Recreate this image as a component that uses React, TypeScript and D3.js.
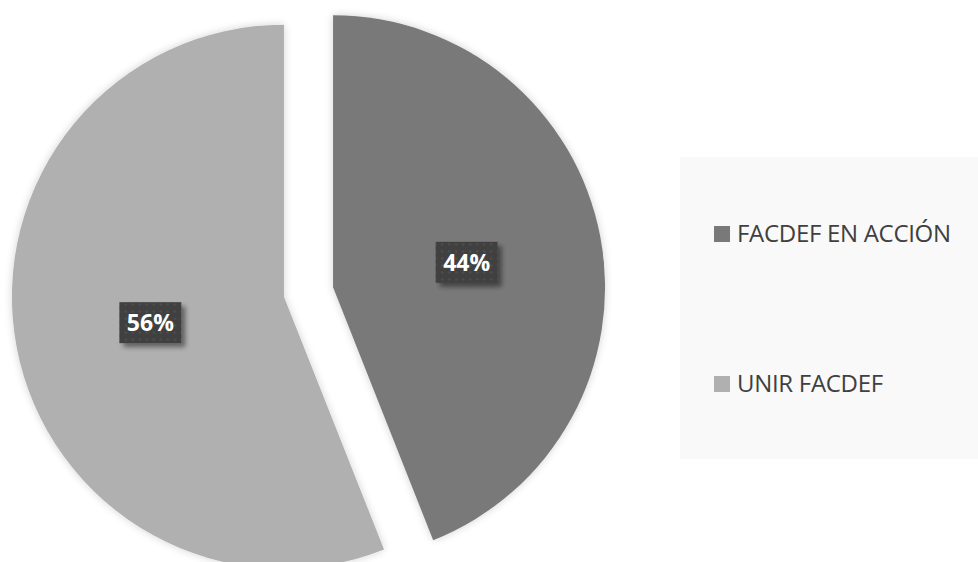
import React from "react";
import * as d3 from "d3";

const categories = ["FACDEF EN ACCIÓN", "UNIR FACDEF"];
const values = [44, 56];
const colors = ["#797979", "#b0b0b0"];

const W = 978;
const H = 562;

export default function App() {
  const cx = 308.5;
  const cy = 292;
  const r = 272;
  const explode = 25;
  const pie = d3.pie<number>().sort(null).value((d) => d)(values);
  const arc = d3.arc<d3.PieArcDatum<number>>().innerRadius(0).outerRadius(r);
  const total = d3.sum(values);

  return (
    <div style={{ position: "absolute", left: 0, top: 0 }}>
      <svg width={W} height={H} style={{ display: "block", background: "#ffffff" }}>
        <defs>
          <filter id="sh" x="-20%" y="-20%" width="140%" height="140%">
            <feGaussianBlur in="SourceAlpha" stdDeviation="4" />
            <feOffset dx="0" dy="0" result="b" />
            <feComponentTransfer>
              <feFuncA type="linear" slope="0.18" />
            </feComponentTransfer>
            <feMerge>
              <feMergeNode />
              <feMergeNode in="SourceGraphic" />
            </feMerge>
          </filter>
          <filter id="lsh" x="-30%" y="-30%" width="160%" height="160%">
            <feGaussianBlur in="SourceAlpha" stdDeviation="2.5" />
            <feOffset dx="4" dy="4" />
            <feComponentTransfer>
              <feFuncA type="linear" slope="0.45" />
            </feComponentTransfer>
            <feMerge>
              <feMergeNode />
              <feMergeNode in="SourceGraphic" />
            </feMerge>
          </filter>
          <pattern id="dots" width="7" height="7" patternUnits="userSpaceOnUse">
            <rect width="7" height="7" fill="#3f3f3f" />
            <circle cx="3.5" cy="3.5" r="1.3" fill="#4f4f4f" />
          </pattern>
        </defs>
        <rect x={680} y={157} width={W - 680} height={302} fill="#f9f9f9" />
        {pie.map((p, i) => {
          const mid = (p.startAngle + p.endAngle) / 2;
          const ox = Math.sin(mid) * explode;
          const oy = -Math.cos(mid) * explode;
          return (
            <g key={"s" + i} transform={`translate(${cx + ox},${cy + oy})`}>
              <path d={arc(p) || ""} fill={colors[i]} filter="url(#sh)" />
            </g>
          );
        })}
        {pie.map((p, i) => {
          const mid = (p.startAngle + p.endAngle) / 2;
          const ox = Math.sin(mid) * explode;
          const oy = -Math.cos(mid) * explode;
          const lx = cx + ox + Math.sin(mid) * r * 0.5;
          const ly = cy + oy - Math.cos(mid) * r * 0.5;
          const label = Math.round((values[i] / total) * 100) + "%";
          return (
            <g key={"l" + i} transform={`translate(${lx},${ly})`}>
              <rect x={-31} y={-20} width={62} height={41} fill="url(#dots)" filter="url(#lsh)" />
              <text
                x={0}
                y={9}
                textAnchor="middle"
                fill="#ffffff"
                fontFamily="'Open Sans', 'Noto Sans', sans-serif"
                fontWeight={700}
                fontSize={23}
              >
                {label}
              </text>
            </g>
          );
        })}
        {categories.map((c, i) => {
          const y = 226 + i * 150;
          return (
            <g key={"g" + i}>
              <rect x={714} y={y} width={16} height={16} fill={colors[i]} />
              <text
                x={737}
                y={y + 16}
                fill="#404040"
                fontFamily="'Open Sans', 'Noto Sans', sans-serif"
                fontSize={24}
                letterSpacing={-0.3}
              >
                {c}
              </text>
            </g>
          );
        })}
      </svg>
    </div>
  );
}
